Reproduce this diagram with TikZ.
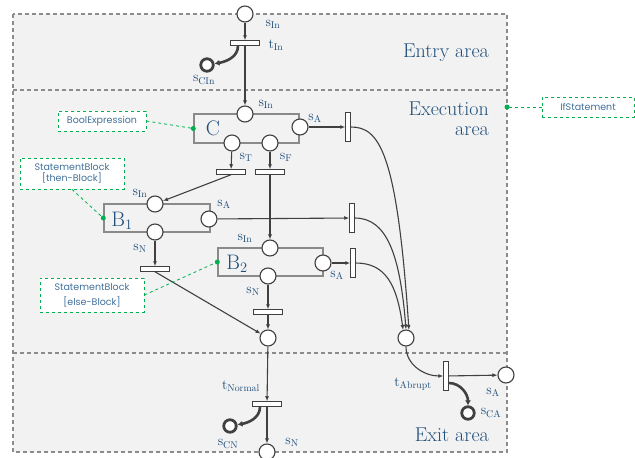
\documentclass[tikz,border=0pt]{standalone}
\usepackage{fontspec}
\newfontfamily\annfont{Poppins}
\usetikzlibrary{arrows.meta}
\definecolor{lblue}{HTML}{1F4E79}
\definecolor{dk}{HTML}{404040}
\definecolor{bg}{HTML}{F2F2F2}
\definecolor{bord}{HTML}{8C8C8C}
\definecolor{grn}{HTML}{00B050}
\definecolor{annc}{HTML}{41719C}
\definecolor{blkc}{HTML}{8A8A8A}
\begin{document}
\begin{tikzpicture}[x=1pt,y=-1pt,
 place/.style={circle,draw=dk,fill=white,line width=1.1pt,minimum size=16pt,inner sep=0pt},
 cplace/.style={circle,draw=dk,fill=white,line width=2.8pt,minimum size=12.5pt,inner sep=0pt},
 htr/.style={rectangle,draw=dk,fill=white,line width=1pt,minimum width=29pt,minimum height=4.5pt,inner sep=0pt},
 vtr/.style={rectangle,draw=dk,fill=white,line width=1pt,minimum width=4.5pt,minimum height=29pt,inner sep=0pt},
 arc/.style={draw=dk,line width=1.1pt,-{Latex[length=5pt,width=4pt]}},
 tarc/.style={draw=dk,line width=2.6pt,-{Latex[length=5pt,width=6pt]}},
 lbl/.style={text=lblue,inner sep=0pt,font=\fontsize{14}{16}\selectfont},
 blk/.style={draw=blkc,line width=1.4pt,inner sep=0pt},
 area/.style={text=lblue,font=\fontsize{20}{20}\selectfont\addfontfeature{FakeBold=0.4},align=right,anchor=east,inner sep=0pt},
 ann/.style={draw=grn,dashed,line width=0.8pt,fill=white,text=annc,font=\annfont\fontsize{9.5}{11}\selectfont,align=center,inner sep=0pt},
 aline/.style={draw=grn,dashed,line width=0.8pt},
 gdot/.style={circle,fill=grn,inner sep=0pt,minimum size=5pt},
 bname/.style={text=lblue,inner sep=0pt,font=\fontsize{21}{22}\selectfont},
 areaborder/.style={draw=bord,line width=1.2pt,dash pattern=on 4pt off 3pt}
]
\useasboundingbox (0,0) rectangle (635,458);
% areas
\fill[bg] (13,14) rectangle (507,452);
\draw[areaborder] (13,14) rectangle (507,452);
\draw[areaborder] (13,90) -- (507,90);
\draw[areaborder] (13,353) -- (507,353);
\node[area] (entry) at (489,53) {Entry area};
\node[area] (exec) at (489,119) {Execution\\area};
\node[area] (exit) at (489,435) {Exit area};
% blocks
\node[blk,minimum width=105pt,minimum height=29pt] (C) at (246.5,128.5) {};
\node[blk,minimum width=106pt,minimum height=28pt] (B1) at (157,218) {};
\node[blk,minimum width=105pt,minimum height=28pt] (B2) at (270.5,262) {};
\node[bname] (Cn) at (213,128) {C};
\node[bname] (B1n) at (122,221) {$\mathrm{B}_1$};
\node[bname] (B2n) at (237,264) {$\mathrm{B}_2$};
% places and transitions
\node[place] (p0) at (245,14) {};
\node[htr] (tIn) at (245,43) {};
\node[cplace] (sCIn) at (207,65) {};
\node[place] (Cin) at (245,114) {};
\node[place] (CA) at (300,127) {};
\node[place] (CT) at (232,143) {};
\node[place] (CF) at (270,143) {};
\node[vtr] (vt1) at (348,127) {};
\node[htr] (tT) at (231,172) {};
\node[htr] (tF) at (270,172) {};
\node[place] (B1in) at (155,204) {};
\node[place] (B1A) at (209,219) {};
\node[place] (B1N) at (155,232) {};
\node[htr] (tB1) at (155,269) {};
\node[vtr] (vt2) at (352,218) {};
\node[place] (B2in) at (270,248) {};
\node[place] (B2A) at (323,263) {};
\node[place] (B2N) at (268,276) {};
\node[vtr] (vt3) at (353,263) {};
\node[htr] (tB2) at (268,312) {};
\node[place] (mN) at (268,338) {};
\node[place] (mA) at (406,338) {};
\node[htr] (tNo) at (267,404) {};
\node[cplace] (sCN) at (230,426) {};
\node[place] (sN) at (267,452) {};
\node[vtr] (tAb) at (446,376) {};
\node[place] (sA) at (506,375) {};
\node[cplace] (sCA) at (468,413) {};
% arcs
\draw[arc] (p0) -- (tIn);
\draw[arc] (tIn) -- (Cin);
\draw[tarc] ([xshift=-7pt]tIn.south) to[out=-90,in=10] (sCIn);
\draw[arc] (CA) -- (vt1);
\draw[arc] (CT) -- (tT);
\draw[arc] (CF) -- (tF);
\draw[arc] (tT.south) -- (B1in);
\draw[arc] (tF) -- (B2in);
\draw[arc] (B1A) -- (vt2);
\draw[arc] (B1N) -- (tB1);
\draw[arc] (tB1.south) -- (mN);
\draw[arc] (B2N) -- (tB2);
\draw[arc] (tB2) -- (mN);
\draw[arc] (B2A) -- (vt3);
\draw[arc] (vt1.east) .. controls +(28,0) and +(-12,-180) .. (mA.70);
\draw[arc] (vt2.east) .. controls +(32,0) and +(-6,-75) .. (mA.north);
\draw[arc] (vt3.east) .. controls +(30,0) and +(-6,-45) .. (mA.110);
\draw[arc] (mA) to[out=-90,in=180] (tAb);
\draw[arc] (tAb) -- (sA);
\draw[tarc] ([yshift=-7pt]tAb.east) to[out=0,in=90] (sCA);
\draw[arc] (mN) -- (tNo);
\draw[arc] (tNo) -- (sN);
\draw[tarc] ([xshift=-7pt]tNo.south) to[out=-90,in=10] (sCN);
% labels
\node[lbl] (l1) at (273,24) {$\mathrm{s}_{\mathrm{In}}$};
\node[lbl] (l2) at (276,45) {$\mathrm{t}_{\mathrm{In}}$};
\node[lbl] (l3) at (204,80) {$\mathrm{s}_{\mathrm{CIn}}$};
\node[lbl] (l4) at (266,104) {$\mathrm{s}_{\mathrm{In}}$};
\node[lbl] (l5) at (315,118) {$\mathrm{s}_{\mathrm{A}}$};
\node[lbl] (l6) at (246,157) {$\mathrm{s}_{\mathrm{T}}$};
\node[lbl] (l7) at (286,157) {$\mathrm{s}_{\mathrm{F}}$};
\node[lbl] (l8) at (140,193) {$\mathrm{s}_{\mathrm{In}}$};
\node[lbl] (l9) at (224,204) {$\mathrm{s}_{\mathrm{A}}$};
\node[lbl] (l10) at (140,248) {$\mathrm{s}_{\mathrm{N}}$};
\node[lbl] (l11) at (245,238) {$\mathrm{s}_{\mathrm{In}}$};
\node[lbl] (l12) at (337,275) {$\mathrm{s}_{\mathrm{A}}$};
\node[lbl] (l13) at (253,291) {$\mathrm{s}_{\mathrm{N}}$};
\node[lbl] (l14) at (241,386) {$\mathrm{t}_{\mathrm{Normal}}$};
\node[lbl] (l15) at (228,444) {$\mathrm{s}_{\mathrm{CN}}$};
\node[lbl] (l16) at (292,442) {$\mathrm{s}_{\mathrm{N}}$};
\node[lbl] (l17) at (413,384) {$\mathrm{t}_{\mathrm{Abrupt}}$};
\node[lbl] (l18) at (493,392) {$\mathrm{s}_{\mathrm{A}}$};
\node[lbl] (l19) at (491,413) {$\mathrm{s}_{\mathrm{CA}}$};
% annotations
\node[ann,minimum width=88pt,minimum height=20pt] (aBool) at (102,121) {BoolExpression};
\node[ann,minimum width=92pt,minimum height=20pt] (aIf) at (588,107) {IfStatement};
\node[ann,minimum width=104pt,minimum height=31pt] (aThen) at (72,173.5) {StatementBlock\\\relax[then-Block]};
\node[ann,minimum width=104pt,minimum height=34pt] (aElse) at (92,295) {StatementBlock\\[4pt]\relax[else-Block]};
\coordinate (ifd) at (507,107);
\draw[aline] (aBool.east) -- (C.west);
\draw[aline] (aIf.west) -- (ifd);
\draw[aline] (aThen.south) -- (B1.west);
\draw[aline] (aElse.east) -- (B2.west);
\node[gdot] (d1) at (C.west) {};
\node[gdot] (d2) at (ifd) {};
\node[gdot] (d3) at (B1.west) {};
\node[gdot] (d4) at (B2.west) {};
\end{tikzpicture}
\end{document}
